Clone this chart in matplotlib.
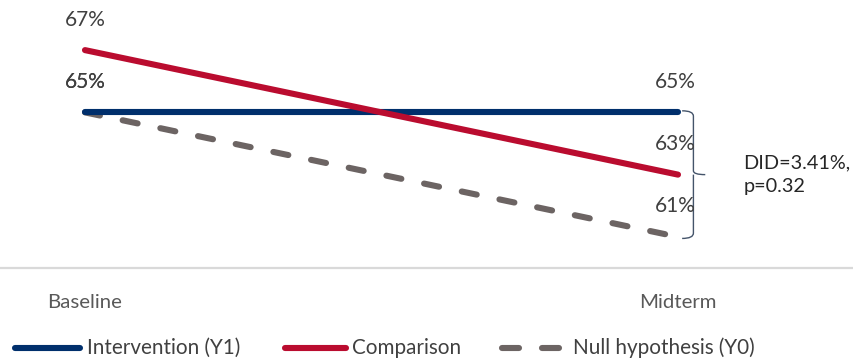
import matplotlib
matplotlib.use("Agg")
import matplotlib.pyplot as plt
from matplotlib.path import Path
from matplotlib.patches import PathPatch
from matplotlib.lines import Line2D

# ---- data ----
periods = ["Baseline", "Midterm"]
intervention = [65, 65]
comparison = [67, 63]
null_hypothesis = [65, 61]
series_names = ["Intervention (Y1)", "Comparison", "Null hypothesis (Y0)"]
did_label = "DID=3.41%,\np=0.32"

# ---- style ----
plt.rcParams["font.family"] = ["Lato", "DejaVu Sans"]

BLUE = "#002F6C"
RED = "#BA0C2F"
GREY = "#6C6463"
TEXT = "#404040"
AXIS_TEXT = "#595959"
LW = 4.4

W, H = 854, 364
fig = plt.figure(figsize=(W / 100, H / 100), dpi=100)
ax = fig.add_axes([0.0, 0.2637, 1.0, 0.7363])

x = [0, 1]
ax.plot(x, intervention, color=BLUE, lw=LW, solid_capstyle="round", zorder=3)
ax.plot(x, comparison, color=RED, lw=LW, solid_capstyle="round", zorder=4)
ax.plot(x, null_hypothesis, color=GREY, lw=LW, dash_capstyle="round",
        dashes=(2.5, 3.8), zorder=2)

ax.set_xlim(-0.1433, 1.2968)
ax.set_ylim(60, 68.61)

# value labels above each point
for series in (intervention, comparison, null_hypothesis):
    for xi, v in zip(x, series):
        ax.annotate(f"{v}%", (xi, v), xytext=(-2 if xi else 0, 22),
                    textcoords="offset points", ha="center", va="center",
                    fontsize=15, color=TEXT)

# curly brace spanning intervention and null values at midterm
y_top, y_bot = intervention[1], null_hypothesis[1]
ymid = (y_top + y_bot) / 2
x0, x1, x2 = 1.007, 1.026, 1.046
dy = 0.12
verts = [
    (x0, y_top + 0.05), (x1, y_top + 0.05), (x1, y_top - dy),
    (x1, ymid + dy),
    (x1, ymid), (x2, ymid),
    (x1, ymid), (x1, ymid - dy),
    (x1, y_bot + dy),
    (x1, y_bot - 0.05), (x0, y_bot - 0.05),
]
codes = [Path.MOVETO, Path.CURVE3, Path.CURVE3,
         Path.LINETO,
         Path.CURVE3, Path.CURVE3,
         Path.MOVETO, Path.CURVE3,
         Path.LINETO,
         Path.CURVE3, Path.CURVE3]
ax.add_patch(PathPatch(Path(verts, codes), fill=False, edgecolor="#44546A",
                       lw=1.0, clip_on=False))
ax.text(1.110, ymid, did_label, ha="left", va="center", fontsize=14.3,
        color="#262626", linespacing=1.45)

# axes styling
for side in ("top", "left", "right"):
    ax.spines[side].set_visible(False)
ax.spines["bottom"].set_color("#D9D9D9")
ax.spines["bottom"].set_linewidth(1.6)
ax.set_yticks([])
ax.set_xticks(x, periods)
ax.tick_params(axis="x", length=0, pad=19, labelsize=14.7, labelcolor=AXIS_TEXT)

# legend row along the bottom: each key is a list of (x0, x1) segments
legend_y = 1 - 348 / H
key_colors = [BLUE, RED, GREY]
key_segments = [[(15, 80)], [(285, 346)], [(502, 519), (542, 559)]]
text_x = [87, 352, 573]
for name, color, segs, tx in zip(series_names, key_colors, key_segments, text_x):
    for hx0, hx1 in segs:
        fig.add_artist(Line2D([hx0 / W, hx1 / W], [legend_y, legend_y], lw=LW,
                              color=color, solid_capstyle="round",
                              transform=fig.transFigure))
    fig.text(tx / W, legend_y, name, ha="left", va="center", fontsize=14.9,
             color=TEXT)

fig.savefig("out.png", dpi=100)
